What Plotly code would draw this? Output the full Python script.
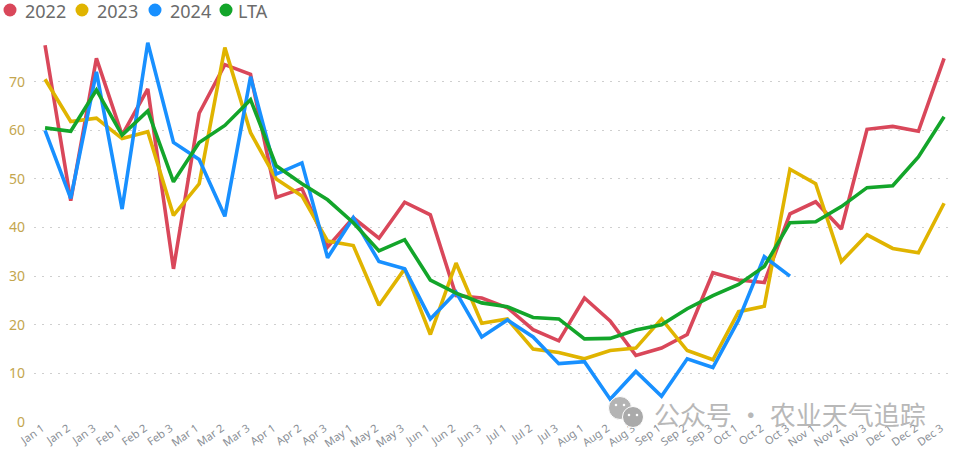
import plotly.graph_objects as go

months = ["Jan","Feb","Mar","Apr","May","Jun","Jul","Aug","Sep","Oct","Nov","Dec"]
categories = [f"{m} {d}" for m in months for d in (1,2,3)]
y2022 = [77.5,45.5,74.8,59,68.5,31.5,63.5,73.5,71.5,46.2,48,36,42,37.8,45.2,42.6,26,25.5,23.5,19,16.7,25.5,20.8,13.7,15.2,18,30.7,29.2,28.7,42.8,45.3,39.7,60.2,60.8,59.8,74.8]
y2023 = [70.5,61.8,62.5,58.3,59.7,42.5,49,77,59.5,50,46.5,37.2,36.3,24,31.5,18,32.7,20.3,21.2,15,14.3,13,14.7,15.2,21.2,14.7,12.8,22.7,23.8,52,49,33,38.5,35.7,34.8,45]
y2024 = [60,46,72,43.8,78,57.5,54,42.3,71,51,53.3,33.8,42,33,31.5,21.2,26.7,17.5,21,17.5,12,12.4,4.7,10.4,5.3,13,11.2,21,34,30]
lta = [60.5,59.8,68.3,59,64,49.4,57.5,61,66.3,52.7,49,45.7,41,35.2,37.5,29.2,26.5,24.5,23.7,21.5,21.2,17.1,17.2,18.9,20,23.3,26,28.3,32,41,41.2,44.3,48.2,48.6,54.5,62.8]
names = ["2022","2023","2024","LTA"]
colors = ["#D9475A","#E0B400","#1890FF","#13A52A"]
series = [y2022,y2023,y2024,lta]

W,H = 960,451
L,R,T,B = 34,10,35,29
fig = go.Figure()
for n,c,s in zip(names,colors,series):
    fig.add_trace(go.Scatter(x=categories[:len(s)],y=s,name=n,mode="lines",
                             line=dict(color=c,width=3.6,shape="linear"),showlegend=False))

px = lambda v: (v-L)/(W-L-R)
py = lambda v: 1-(v-T)/(H-T-B)
def circle(cx,cy,r,col,lw=0):
    return dict(type="circle",xref="paper",yref="paper",x0=px(cx-r),x1=px(cx+r),
                y0=py(cy+r),y1=py(cy-r),fillcolor=col,line=dict(color="white",width=lw))
shapes=[];ann=[]
leg_marker=[10,82,155,226]
leg_text=[23,95,168,236]
for n,c,mx,tx in zip(names,colors,leg_marker,leg_text):
    shapes.append(circle(mx,10,6.5,c))
    ann.append(dict(text=n,xref="paper",yref="paper",x=px(tx),y=py(11),xanchor="left",yanchor="middle",
                    showarrow=False,font=dict(family="Noto Sans",size=18,color="#6b6b6b")))
# watermark
shapes.append(circle(620,408,11.5,"#b4b4b4",1))
shapes.append(circle(633,417,10.5,"#aaaaaa",1))
for cx,cy in [(616,405),(624,405),(629,415),(637,415)]:
    shapes.append(circle(cx,cy,1.3,"#ffffff"))
ann.append(dict(text="公众号 · 农业天气追踪",xref="paper",yref="paper",x=px(652),y=py(413),xanchor="left",yanchor="middle",
                showarrow=False,font=dict(family="Noto Sans CJK SC",size=26,color="#b8b8b8")))

fig.update_layout(width=W,height=H,margin=dict(l=L,r=R,t=T,b=B,autoexpand=False),
    paper_bgcolor="white",plot_bgcolor="white",showlegend=False,shapes=shapes,annotations=ann,
    xaxis=dict(type="category",categoryorder="array",categoryarray=categories,range=[-0.43,35.23],showgrid=False,zeroline=False,showline=False,
               tickangle=-35,ticks="",ticklabelstandoff=-3,ticklabelshift=-3,tickfont=dict(family="Noto Sans",size=11,color="#8a8f96"),automargin=False,tickmode="array",tickvals=categories,ticktext=categories),
    yaxis=dict(range=[0,79.6],tick0=0,dtick=10,showgrid=True,gridcolor="#cfcfcf",griddash="1.5px,6.5px",gridwidth=1,zeroline=False,showline=False,
               ticks="",ticklabelstandoff=8,tickfont=dict(family="Noto Sans",size=14,color="#C4A64E"),automargin=False))
fig.write_html("out.html",post_script="document.body.style.margin='0';",config={"displayModeBar":False})
